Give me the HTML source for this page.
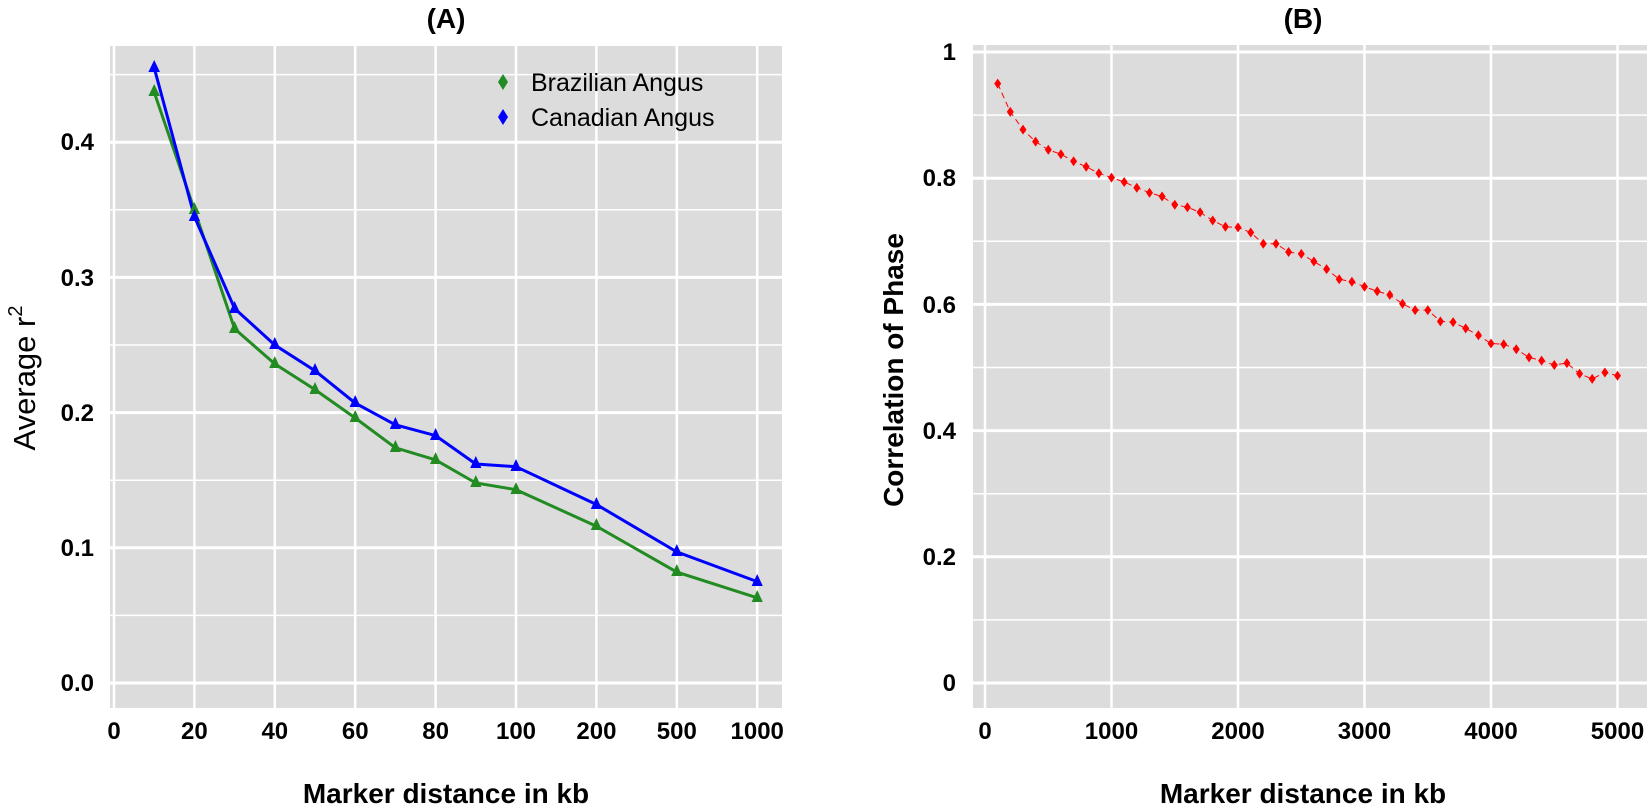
<!DOCTYPE html>
<html><head><meta charset="utf-8"><style>
html,body{margin:0;padding:0;background:#fff;}
svg{display:block;font-family:"Liberation Sans",sans-serif;}
</style></head><body>
<svg width="1647" height="805" viewBox="0 0 1647 805" xmlns="http://www.w3.org/2000/svg">
<defs><polygon id="d" points="0,-5 3.5,0 0,5 -3.5,0" fill="#f00"/></defs>
<!-- Panel A -->
<rect x="110" y="46" width="672" height="662" fill="#dcdcdc"/>
<g stroke="#fff">
<g stroke-width="1.5">
<line x1="110" x2="782" y1="615.4" y2="615.4"/><line x1="110" x2="782" y1="480.2" y2="480.2"/>
<line x1="110" x2="782" y1="345" y2="345"/><line x1="110" x2="782" y1="209.8" y2="209.8"/>
<line x1="110" x2="782" y1="74.6" y2="74.6"/>
</g>
<g stroke-width="3">
<line x1="110" x2="782" y1="683" y2="683"/><line x1="110" x2="782" y1="547.8" y2="547.8"/>
<line x1="110" x2="782" y1="412.6" y2="412.6"/><line x1="110" x2="782" y1="277.4" y2="277.4"/>
<line x1="110" x2="782" y1="142.2" y2="142.2"/>
</g>
<g stroke-width="2.5">
<line x1="114" x2="114" y1="46" y2="708"/><line x1="194.4" x2="194.4" y1="46" y2="708"/>
<line x1="274.8" x2="274.8" y1="46" y2="708"/><line x1="355.2" x2="355.2" y1="46" y2="708"/>
<line x1="435.6" x2="435.6" y1="46" y2="708"/><line x1="516" x2="516" y1="46" y2="708"/>
<line x1="596.4" x2="596.4" y1="46" y2="708"/><line x1="676.8" x2="676.8" y1="46" y2="708"/>
<line x1="757.2" x2="757.2" y1="46" y2="708"/>
</g>
</g>
<g font-weight="bold" font-size="24" text-anchor="end" fill="#000">
<text x="94" y="691">0.0</text><text x="94" y="556">0.1</text><text x="94" y="421">0.2</text>
<text x="94" y="286">0.3</text><text x="94" y="150">0.4</text>
</g>
<g font-weight="bold" font-size="24" text-anchor="middle" fill="#000">
<text x="114" y="739">0</text><text x="194.4" y="739">20</text><text x="274.8" y="739">40</text>
<text x="355.2" y="739">60</text><text x="435.6" y="739">80</text><text x="516" y="739">100</text>
<text x="596.4" y="739">200</text><text x="676.8" y="739">500</text><text x="757.2" y="739">1000</text>
</g>
<text x="446" y="803" font-size="28" font-weight="bold" text-anchor="middle">Marker distance in kb</text>
<text x="446" y="28" font-size="28" font-weight="bold" text-anchor="middle">(A)</text>
<text transform="translate(35,378) rotate(-90)" font-size="31" text-anchor="middle">Average r<tspan font-size="20" dy="-13">2</tspan></text>
<polygon points="503,74 508,82 503,90 498,82" fill="#228b22"/>
<polygon points="503,109 508,117 503,125 498,117" fill="#0000ff"/>
<text x="531" y="91" font-size="25">Brazilian Angus</text>
<text x="531" y="126" font-size="25">Canadian Angus</text>

<!-- Panel B -->
<rect x="973" y="45" width="674" height="663" fill="#dcdcdc"/>
<g stroke="#fff">
<g stroke-width="1.5">
<line x1="973" x2="1647" y1="619.9" y2="619.9"/><line x1="973" x2="1647" y1="493.7" y2="493.7"/>
<line x1="973" x2="1647" y1="367.5" y2="367.5"/><line x1="973" x2="1647" y1="241.3" y2="241.3"/>
<line x1="973" x2="1647" y1="115.1" y2="115.1"/>
</g>
<g stroke-width="3">
<line x1="973" x2="1647" y1="683" y2="683"/><line x1="973" x2="1647" y1="556.8" y2="556.8"/>
<line x1="973" x2="1647" y1="430.6" y2="430.6"/><line x1="973" x2="1647" y1="304.4" y2="304.4"/>
<line x1="973" x2="1647" y1="178.2" y2="178.2"/><line x1="973" x2="1647" y1="52" y2="52"/>
</g>
<g stroke-width="2.5">
<line x1="985" x2="985" y1="45" y2="708"/><line x1="1111.5" x2="1111.5" y1="45" y2="708"/>
<line x1="1238" x2="1238" y1="45" y2="708"/><line x1="1364.5" x2="1364.5" y1="45" y2="708"/>
<line x1="1491" x2="1491" y1="45" y2="708"/><line x1="1617.5" x2="1617.5" y1="45" y2="708"/>
</g>
</g>
<g font-weight="bold" font-size="24" text-anchor="end" fill="#000">
<text x="956" y="691">0</text><text x="956" y="565">0.2</text><text x="956" y="439">0.4</text>
<text x="956" y="313">0.6</text><text x="956" y="186">0.8</text><text x="956" y="60">1</text>
</g>
<g font-weight="bold" font-size="24" text-anchor="middle" fill="#000">
<text x="985" y="739">0</text><text x="1111.5" y="739">1000</text><text x="1238" y="739">2000</text>
<text x="1364.5" y="739">3000</text><text x="1491" y="739">4000</text><text x="1617.5" y="739">5000</text>
</g>
<text x="1303" y="803" font-size="28" font-weight="bold" text-anchor="middle">Marker distance in kb</text>
<text x="1303" y="28" font-size="28" font-weight="bold" text-anchor="middle">(B)</text>
<text transform="translate(903,370) rotate(-90)" font-size="28" font-weight="bold" text-anchor="middle">Correlation of Phase</text>

<!-- series A -->
<polyline fill="none" stroke="#228b22" stroke-width="3" points="154.2,92.2 194.4,209.8 234.6,328.8 274.8,363.9 315,389.6 355.2,418 395.4,447.8 435.6,459.9 475.8,483 516,489.7 596.4,526.2 676.8,572.1 757.2,597.8"/>
<polyline fill="none" stroke="#0000ff" stroke-width="3" points="154.2,67.8 194.4,216.6 234.6,308.5 274.8,345 315,370.7 355.2,403.1 395.4,424.8 435.6,435.6 475.8,464 516,466.7 596.4,504.5 676.8,551.9 757.2,581.6"/>
<g fill="#228b22">
<polygon points="154.2,84 160,96 148.4,96"/><polygon points="194.4,202 200,214 188.8,214"/>
<polygon points="234.6,321 240.2,333 229,333"/><polygon points="274.8,356 280.4,368 269.2,368"/>
<polygon points="315,382 320.6,394 309.4,394"/><polygon points="355.2,410 360.8,422 349.6,422"/>
<polygon points="395.4,440 401,452 389.8,452"/><polygon points="435.6,452 441.2,464 430,464"/>
<polygon points="475.8,475 481.4,487 470.2,487"/><polygon points="516,482 521.6,494 510.4,494"/>
<polygon points="596.4,518 602,530 590.8,530"/><polygon points="676.8,564 682.4,576 671.2,576"/>
<polygon points="757.2,590 762.8,602 751.6,602"/>
</g>
<g fill="#0000ff">
<polygon points="154.2,60 160,72 148.4,72"/><polygon points="194.4,209 200,221 188.8,221"/>
<polygon points="234.6,301 240.2,313 229,313"/><polygon points="274.8,337 280.4,349 269.2,349"/>
<polygon points="315,363 320.6,375 309.4,375"/><polygon points="355.2,395 360.8,407 349.6,407"/>
<polygon points="395.4,417 401,429 389.8,429"/><polygon points="435.6,428 441.2,440 430,440"/>
<polygon points="475.8,456 481.4,468 470.2,468"/><polygon points="516,459 521.6,471 510.4,471"/>
<polygon points="596.4,497 602,509 590.8,509"/><polygon points="676.8,544 682.4,556 671.2,556"/>
<polygon points="757.2,574 762.8,586 751.6,586"/>
</g>

<!-- series B -->
<polyline fill="none" stroke="#f00" stroke-width="1" stroke-dasharray="6,4" points="997.7,83.6 1010.3,111.9 1023,129.6 1035.6,141.6 1048.3,149.8 1060.9,154.2 1073.6,161.2 1086.2,166.8 1098.9,173.2 1111.5,177.6 1124.2,182 1136.8,187.7 1149.5,192.7 1162.1,196.5 1174.8,204.7 1187.4,207.2 1200.1,212.3 1212.7,220.5 1225.4,226.8 1238,227.4 1250.7,232.5 1263.3,243.8 1276,243.8 1288.6,252 1301.3,253.9 1313.9,261.5 1326.6,269.1 1339.2,279.2 1351.9,281.7 1364.5,286.7 1377.2,291.2 1389.8,294.9 1402.5,303.8 1415.1,310.1 1427.8,310.1 1440.4,321.4 1453.1,322.1 1465.7,328.4 1478.4,335.3 1491,343.5 1503.7,344.2 1516.3,349.2 1529,357.4 1541.6,360.6 1554.3,365 1566.9,363.1 1579.6,373.8 1592.2,378.9 1604.9,372.5 1617.5,375.7"/>
<g>
<use href="#d" x="997.7" y="83.6"/><use href="#d" x="1010.3" y="111.9"/><use href="#d" x="1023" y="129.6"/><use href="#d" x="1035.6" y="141.6"/><use href="#d" x="1048.3" y="149.8"/>
<use href="#d" x="1060.9" y="154.2"/><use href="#d" x="1073.6" y="161.2"/><use href="#d" x="1086.2" y="166.8"/><use href="#d" x="1098.9" y="173.2"/><use href="#d" x="1111.5" y="177.6"/>
<use href="#d" x="1124.2" y="182"/><use href="#d" x="1136.8" y="187.7"/><use href="#d" x="1149.5" y="192.7"/><use href="#d" x="1162.1" y="196.5"/><use href="#d" x="1174.8" y="204.7"/>
<use href="#d" x="1187.4" y="207.2"/><use href="#d" x="1200.1" y="212.3"/><use href="#d" x="1212.7" y="220.5"/><use href="#d" x="1225.4" y="226.8"/><use href="#d" x="1238" y="227.4"/>
<use href="#d" x="1250.7" y="232.5"/><use href="#d" x="1263.3" y="243.8"/><use href="#d" x="1276" y="243.8"/><use href="#d" x="1288.6" y="252"/><use href="#d" x="1301.3" y="253.9"/>
<use href="#d" x="1313.9" y="261.5"/><use href="#d" x="1326.6" y="269.1"/><use href="#d" x="1339.2" y="279.2"/><use href="#d" x="1351.9" y="281.7"/><use href="#d" x="1364.5" y="286.7"/>
<use href="#d" x="1377.2" y="291.2"/><use href="#d" x="1389.8" y="294.9"/><use href="#d" x="1402.5" y="303.8"/><use href="#d" x="1415.1" y="310.1"/><use href="#d" x="1427.8" y="310.1"/>
<use href="#d" x="1440.4" y="321.4"/><use href="#d" x="1453.1" y="322.1"/><use href="#d" x="1465.7" y="328.4"/><use href="#d" x="1478.4" y="335.3"/><use href="#d" x="1491" y="343.5"/>
<use href="#d" x="1503.7" y="344.2"/><use href="#d" x="1516.3" y="349.2"/><use href="#d" x="1529" y="357.4"/><use href="#d" x="1541.6" y="360.6"/><use href="#d" x="1554.3" y="365"/>
<use href="#d" x="1566.9" y="363.1"/><use href="#d" x="1579.6" y="373.8"/><use href="#d" x="1592.2" y="378.9"/><use href="#d" x="1604.9" y="372.5"/><use href="#d" x="1617.5" y="375.7"/>
</g>
</svg>
</body></html>
